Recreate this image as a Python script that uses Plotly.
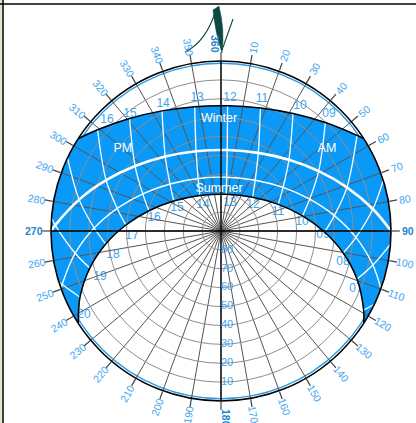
import math
import plotly.graph_objects as go

# ---------------- data ----------------
# hour-angle columns (deg from solar noon), one per clock hour
hour_angles = [-108, -93, -78, -63, -48, -33, -18, -3, 12, 27, 42, 57, 72, 87, 102]

# sun positions: zenith distance (90 - altitude) and azimuth (deg, clockwise from N)
winter_zen = [None, None, None, 88.03, 79.69, 72.97, 68.38, 66.40, 67.26, 70.85, 76.79, 84.54, None, None, None]
winter_az = [None, None, None, 54.88, 43.87, 31.50, 17.75, 3.00, 348.06, 333.84, 320.90, 309.37, None, None, None]
equinox_zen = [None, None, 81.24, 70.57, 60.65, 52.09, 45.84, 42.99, 44.23, 49.26, 57.02, 66.49, 76.92, 87.80, None]
equinox_az = [None, None, 81.77, 70.87, 58.50, 43.65, 25.51, 4.40, 342.66, 323.18, 307.09, 293.85, 282.47, 272.04, None]
mid_zen = [None, 82.40, 71.53, 60.57, 49.91, 40.15, 32.42, 28.62, 30.31, 36.72, 45.85, 56.24, 67.14, 78.09, 88.75]
mid_az = [None, 102.63, 92.73, 82.27, 70.22, 54.90, 33.93, 6.08, 336.48, 312.65, 295.40, 282.28, 271.34, 261.32, 251.37]
summer_zen = [86.38, 76.37, 65.76, 54.84, 43.90, 33.43, 24.49, 19.60, 21.84, 29.59, 39.63, 50.45, 61.41, 72.18, 82.47]
summer_az = [119.03, 109.48, 100.21, 90.55, 79.49, 65.06, 43.13, 8.22, 329.16, 302.47, 285.71, 273.62, 263.57, 254.23, 244.86]

# sunrise / sunset azimuths on the horizon
winter_rise_set = [57.1, 302.9]
equinox_rise_set = [90.0, 270.0]
mid_rise_set = [109.85, 250.15]
summer_rise_set = [122.9, 237.1]
# where each hour line starts on the horizon (None = starts on the winter path)
hourline_horizon_az = [115.51, 94.40, 72.66, None, None, None, None, None, None, None, None, None, 295.51, 274.40, 252.66]

horizon_west_az = [300, 290, 280, 270, 260, 250, 240]
horizon_east_az = [120, 110, 100, 90, 80, 70, 60]

# hour labels (zenith distance, azimuth)
winter_labels = ["17", "16", "15", "14", "13", "12", "11", "10", "09", "08"]
winter_label_zen = [93.1, 84.2, 78.5, 73.9, 71.5, 70.6, 73.2, 78.3, 84.3, 91.9]
winter_label_az = [303.9, 314.2, 322.1, 335.5, 349.8, 3.87, 17.26, 32.29, 42.71, 53.19]
summer_labels = ["06", "07", "08", "09", "10", "11", "12", "13", "14", "15", "16", "17", "18", "19", "20"]
summer_label_zen = [90.2, 77.8, 66.6, 54.0, 43.1, 31.8, 21.8, 15.6, 16.7, 26.3, 36.1, 47.2, 58.6, 68.5, 85.1]
summer_label_az = [123.5, 113.25, 104.26, 92.25, 83.66, 71.57, 50.9, 17.8, 325.3, 297.6, 281.0, 266.8, 257.5, 249.2, 238.5]

band_words = ["Winter", "Summer", "PM", "AM"]
band_word_zen = [59.3, 22.2, 67.7, 70.9]
band_word_az = [359.0, 357.3, 309.9, 52.3]

altitude_ticks = [10, 20, 30, 40, 50, 60, 70, 80]          # zenith distance of rings
altitude_labels = ["80", "70", "60", "50", "40", "30", "20", "10"]
azimuth_ticks = list(range(10, 361, 10))
bold_azimuths = [90, 180, 270, 360]

# ---------------- styling ----------------
W, H = 416, 423
CX, CY, RPX = 221, 231, 170
FONT = "Liberation Sans, Arial, sans-serif"
BAND = "#0a99f7"
LBLUE = "#3ea5f0"
DBLUE = "#1f86cf"


def px(x):
    return x / W


def py(y):
    return 1 - y / H


def valid(zs, azs):
    r, t = [], []
    for z, a in zip(zs, azs):
        if z is not None:
            r.append(z)
            t.append(a)
    return r, t


def date_path(zs, azs, rise_set):
    r, t = valid(zs, azs)
    return [90] + r + [90], [rise_set[0]] + t + [rise_set[1]]


fig = go.Figure()

# --- bottom subplot: labels under the band, then the band itself ---
fig.add_trace(go.Scatterpolar(
    r=summer_label_zen, theta=summer_label_az, text=summer_labels, mode="text",
    textfont=dict(color=LBLUE, size=12, family=FONT), cliponaxis=False,
    subplot="polar", hoverinfo="skip", showlegend=False))

w_r, w_t = date_path(winter_zen, winter_az, winter_rise_set)
s_r, s_t = date_path(summer_zen, summer_az, summer_rise_set)
fill_r = w_r + [90] * len(horizon_west_az) + s_r[::-1] + [90] * len(horizon_east_az)
fill_t = w_t + horizon_west_az + s_t[::-1] + horizon_east_az
fig.add_trace(go.Scatterpolar(
    r=fill_r, theta=fill_t, mode="lines", fill="toself", fillcolor=BAND,
    line=dict(color=BAND, width=0.5, shape="spline", smoothing=0.8),
    subplot="polar", hoverinfo="skip", showlegend=False))

# --- top subplot: grid (from its axes), white lines, edges, labels ---
dates = [(winter_zen, winter_az, winter_rise_set), (equinox_zen, equinox_az, equinox_rise_set),
         (mid_zen, mid_az, mid_rise_set), (summer_zen, summer_az, summer_rise_set)]
for i in range(len(hour_angles)):
    r, t = [], []
    if hourline_horizon_az[i] is not None:
        r.append(90)
        t.append(hourline_horizon_az[i])
    for zs, azs, _ in dates:
        if zs[i] is not None:
            r.append(zs[i])
            t.append(azs[i])
    fig.add_trace(go.Scatterpolar(
        r=r, theta=t, mode="lines", line=dict(color="white", width=1.3, shape="spline"),
        subplot="polar2", hoverinfo="skip", showlegend=False))

m_r, m_t = date_path(mid_zen, mid_az, mid_rise_set)
fig.add_trace(go.Scatterpolar(r=m_r, theta=m_t, mode="lines",
                              line=dict(color="white", width=1.4, shape="spline"),
                              subplot="polar2", hoverinfo="skip", showlegend=False))
e_r, e_t = date_path(equinox_zen, equinox_az, equinox_rise_set)
fig.add_trace(go.Scatterpolar(r=e_r, theta=e_t, mode="lines",
                              line=dict(color="white", width=2.6, shape="spline"),
                              subplot="polar2", hoverinfo="skip", showlegend=False))
for rr, tt in [(w_r, w_t), (s_r, s_t)]:
    fig.add_trace(go.Scatterpolar(r=rr, theta=tt, mode="lines",
                                  line=dict(color="black", width=1.5, shape="spline"),
                                  subplot="polar2", hoverinfo="skip", showlegend=False))

# cardinal axes
for a in (0, 90):
    fig.add_trace(go.Scatterpolar(r=[94, 94], theta=[a, a + 180], mode="lines",
                                  line=dict(color="black", width=1.3), cliponaxis=False,
                                  subplot="polar2", hoverinfo="skip", showlegend=False))

fig.add_trace(go.Scatterpolar(
    r=winter_label_zen, theta=winter_label_az, text=winter_labels, mode="text",
    textfont=dict(color=LBLUE, size=12, family=FONT), cliponaxis=False,
    subplot="polar2", hoverinfo="skip", showlegend=False))
fig.add_trace(go.Scatterpolar(
    r=band_word_zen, theta=band_word_az, text=band_words, mode="text",
    textfont=dict(color="white", size=12.5, family=FONT), cliponaxis=False,
    subplot="polar2", hoverinfo="skip", showlegend=False))
fig.add_trace(go.Scatterpolar(
    r=altitude_ticks, theta=[180] * len(altitude_ticks), text=altitude_labels, mode="text",
    textposition="middle right", textfont=dict(color=LBLUE, size=11, family=FONT),
    subplot="polar2", hoverinfo="skip", showlegend=False))

# azimuth labels, rotated along their spokes
annotations = []
for a in azimuth_ticks:
    rad = math.radians(a)
    rl = 187
    x = CX + rl * math.sin(rad)
    y = CY - rl * math.cos(rad)
    if a == 360:
        x -= 6
    if a == 180:
        x += 5
    ang = a - 90 if a <= 180 else a - 270
    bold = a in bold_azimuths
    annotations.append(dict(
        x=px(x), y=py(y), xref="paper", yref="paper", text=("<b>%d</b>" % a) if bold else str(a),
        showarrow=False, textangle=ang, xanchor="center", yanchor="middle",
        font=dict(color=DBLUE if bold else LBLUE, size=10.5, family=FONT)))

dom_x = [px(CX - RPX), px(CX + RPX)]
dom_y = [py(CY + RPX), py(CY - RPX)]

shapes = [
    dict(type="rect", xref="paper", yref="paper", x0=0, x1=px(2.3), y0=0, y1=1,
         fillcolor="#dfe6d2", line=dict(width=0), layer="below"),
    dict(type="line", xref="paper", yref="paper", x0=px(3), x1=px(3), y0=0, y1=1,
         line=dict(color="black", width=1.5)),
    dict(type="line", xref="paper", yref="paper", x0=0, x1=1, y0=py(4), y1=py(4),
         line=dict(color="black", width=1.5)),
]


def path(pts, close=False):
    s = ""
    for cmd, coords in pts:
        s += cmd + " " + " ".join("%.4f,%.4f" % (px(cx), py(cy)) for cx, cy in coords) + " "
    return s + ("Z" if close else "")


NCOL = "#0c4a42"
shapes.append(dict(type="path", xref="paper", yref="paper",
                   path=path([("M", [(185, 52)]), ("Q", [(206, 42), (216, 10)])]),
                   line=dict(color=NCOL, width=1.1)))
shapes.append(dict(type="path", xref="paper", yref="paper",
                   path=path([("M", [(213, 10)]), ("L", [(219, 6)]), ("Q", [(225, 30), (222, 53)]),
                              ("Q", [(215, 32), (213, 10)])], close=True),
                   fillcolor=NCOL, line=dict(color=NCOL, width=0.5)))
shapes.append(dict(type="path", xref="paper", yref="paper",
                   path=path([("M", [(222, 50)]), ("L", [(233, 19)])]),
                   line=dict(color=NCOL, width=1.1)))

common_ang = dict(rotation=90, direction="clockwise")
fig.update_layout(
    width=W, height=H, margin=dict(l=0, r=0, t=0, b=0),
    paper_bgcolor="white", showlegend=False,
    polar=dict(
        domain=dict(x=dom_x, y=dom_y), bgcolor="white",
        radialaxis=dict(range=[0, 90], tickvals=[88.8], showticklabels=False, ticks="",
                        showline=False, showgrid=True, gridcolor="#2a9be6", gridwidth=1.4),
        angularaxis=dict(showgrid=False, showline=False, ticks="", showticklabels=False, **common_ang),
    ),
    polar2=dict(
        domain=dict(x=dom_x, y=dom_y), bgcolor="rgba(0,0,0,0)",
        radialaxis=dict(range=[0, 90], tickvals=altitude_ticks, showticklabels=False, ticks="",
                        showline=False, showgrid=True, gridcolor="#8e8e8e", gridwidth=1),
        angularaxis=dict(tickmode="linear", tick0=0, dtick=10, showgrid=True, gridcolor="#555555",
                         gridwidth=1, showline=True, linecolor="black", linewidth=1.6,
                         ticks="outside", ticklen=8, tickcolor="#444444", tickwidth=1.2,
                         showticklabels=False, **common_ang),
    ),
    annotations=annotations, shapes=shapes,
)

fig.write_html("out.html", config={"displayModeBar": False, "staticPlot": True},
               post_script="document.body.style.margin='0';document.body.style.overflow='hidden';")
